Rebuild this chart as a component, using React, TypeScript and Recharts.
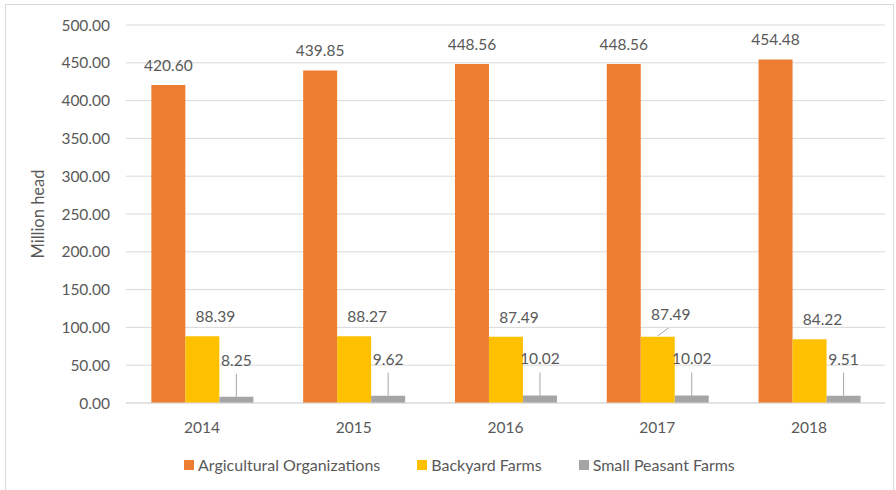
import React from 'react';
import { BarChart, Bar, XAxis, YAxis, CartesianGrid, LabelList, Legend } from 'recharts';

// Livestock by farm type, million head
const years = ['2014', '2015', '2016', '2017', '2018'];
const agricultural = [420.6, 439.85, 448.56, 448.56, 454.48];
const backyard = [88.39, 88.27, 87.49, 87.49, 84.22];
const smallPeasant = [8.25, 9.62, 10.02, 10.02, 9.51];
const yTicks = [0, 50, 100, 150, 200, 250, 300, 350, 400, 450, 500];

const seriesNames = ['Argicultural Organizations', 'Backyard Farms', 'Small Peasant Farms'];
const seriesColors = ['#ED7D31', '#FFC000', '#A5A5A5'];

const data = years.map((year, i) => ({
  year,
  agricultural: agricultural[i],
  backyard: backyard[i],
  smallPeasant: smallPeasant[i],
}));

const FONT = 'Lato, "Noto Sans", sans-serif';
const TEXT = '#595959';
const GRID = '#D9D9D9';

const fmt = (v: number) => Number(v).toFixed(2);

const TopLabel = (props: any) => {
  const { x, y, width, value } = props;
  return (
    <text x={x + width / 2} y={y - 14} textAnchor="middle" fill={TEXT} fontSize={15.5} fontFamily={FONT}>
      {fmt(value)}
    </text>
  );
};

const BackyardLabel = (props: any) => {
  const { x, y, width, value, index } = props;
  const cx = x + width / 2;
  const lifted = index === 3;
  const ty = lifted ? y - 17 : y - 14;
  return (
    <g>
      {lifted && <line x1={cx} y1={y - 1} x2={cx + 11} y2={y - 9} stroke="#A6A6A6" strokeWidth={1} />}
      <text x={cx + 13} y={ty} textAnchor="middle" fill={TEXT} fontSize={15.5} fontFamily={FONT}>
        {fmt(value)}
      </text>
    </g>
  );
};

const PeasantLabel = (props: any) => {
  const { x, y, width, value } = props;
  const cx = x + width / 2;
  return (
    <g>
      <line x1={cx} y1={y - 23} x2={cx} y2={y} stroke="#A6A6A6" strokeWidth={1} />
      <text x={cx} y={y - 31} textAnchor="middle" fill={TEXT} fontSize={15.5} fontFamily={FONT}>
        {fmt(value)}
      </text>
    </g>
  );
};

const YTitle = (props: any) => {
  const { viewBox } = props;
  const cy = viewBox.y + viewBox.height / 2;
  const cx = 38;
  return (
    <text
      x={cx}
      y={cy}
      transform={`rotate(-90, ${cx}, ${cy})`}
      textAnchor="middle"
      dominantBaseline="central"
      fill={TEXT}
      fontSize={16.5}
      fontFamily={FONT}
    >
      Million head
    </text>
  );
};

const LegendContent = () => (
  <div style={{ display: 'flex', alignItems: 'center', paddingLeft: 184, fontFamily: FONT, fontSize: 16, color: TEXT }}>
    {seriesNames.map((name, i) => (
      <div key={name} style={{ display: 'flex', alignItems: 'center', marginRight: 37 }}>
        <span style={{ width: 10, height: 10, background: seriesColors[i], marginRight: 4, display: 'inline-block' }} />
        <span>{name}</span>
      </div>
    ))}
  </div>
);

export default function App() {
  return (
    <div style={{ position: 'absolute', left: 0, top: 0, width: 896, height: 490, overflow: 'hidden', background: '#fff' }}>
      <div style={{ position: 'absolute', left: 5, top: 4, width: 887, height: 600, border: `1px solid ${GRID}` }} />
      <div style={{ position: 'absolute', left: 0, top: 0 }}>
        <BarChart
          width={896}
          height={490}
          data={data}
          margin={{ top: 25, right: 11, bottom: 57, left: 46 }}
          barCategoryGap="16.7%"
          barGap={0}
        >
          <CartesianGrid vertical={false} stroke={GRID} strokeWidth={1} />
          <XAxis
            dataKey="year"
            height={30}
            axisLine={{ stroke: GRID }}
            tickLine={false}
            tickMargin={13}
            tick={{ fill: TEXT, fontSize: 15.5, fontFamily: FONT }}
          />
          <YAxis
            width={80}
            domain={[0, 500]}
            ticks={yTicks}
            tickFormatter={fmt}
            axisLine={false}
            tickLine={false}
            tickMargin={10}
            tick={{ fill: TEXT, fontSize: 15.5, fontFamily: FONT }}
            label={{ content: YTitle }}
          />
          <Legend layout="horizontal" verticalAlign="middle" align="center" wrapperStyle={{ top: 455, left: 0, width: 896 }} content={LegendContent} />
          <Bar dataKey="agricultural" name={seriesNames[0]} fill={seriesColors[0]} isAnimationActive={false}>
            <LabelList dataKey="agricultural" content={TopLabel} />
          </Bar>
          <Bar dataKey="backyard" name={seriesNames[1]} fill={seriesColors[1]} isAnimationActive={false}>
            <LabelList dataKey="backyard" content={BackyardLabel} />
          </Bar>
          <Bar dataKey="smallPeasant" name={seriesNames[2]} fill={seriesColors[2]} isAnimationActive={false}>
            <LabelList dataKey="smallPeasant" content={PeasantLabel} />
          </Bar>
        </BarChart>
      </div>
    </div>
  );
}
